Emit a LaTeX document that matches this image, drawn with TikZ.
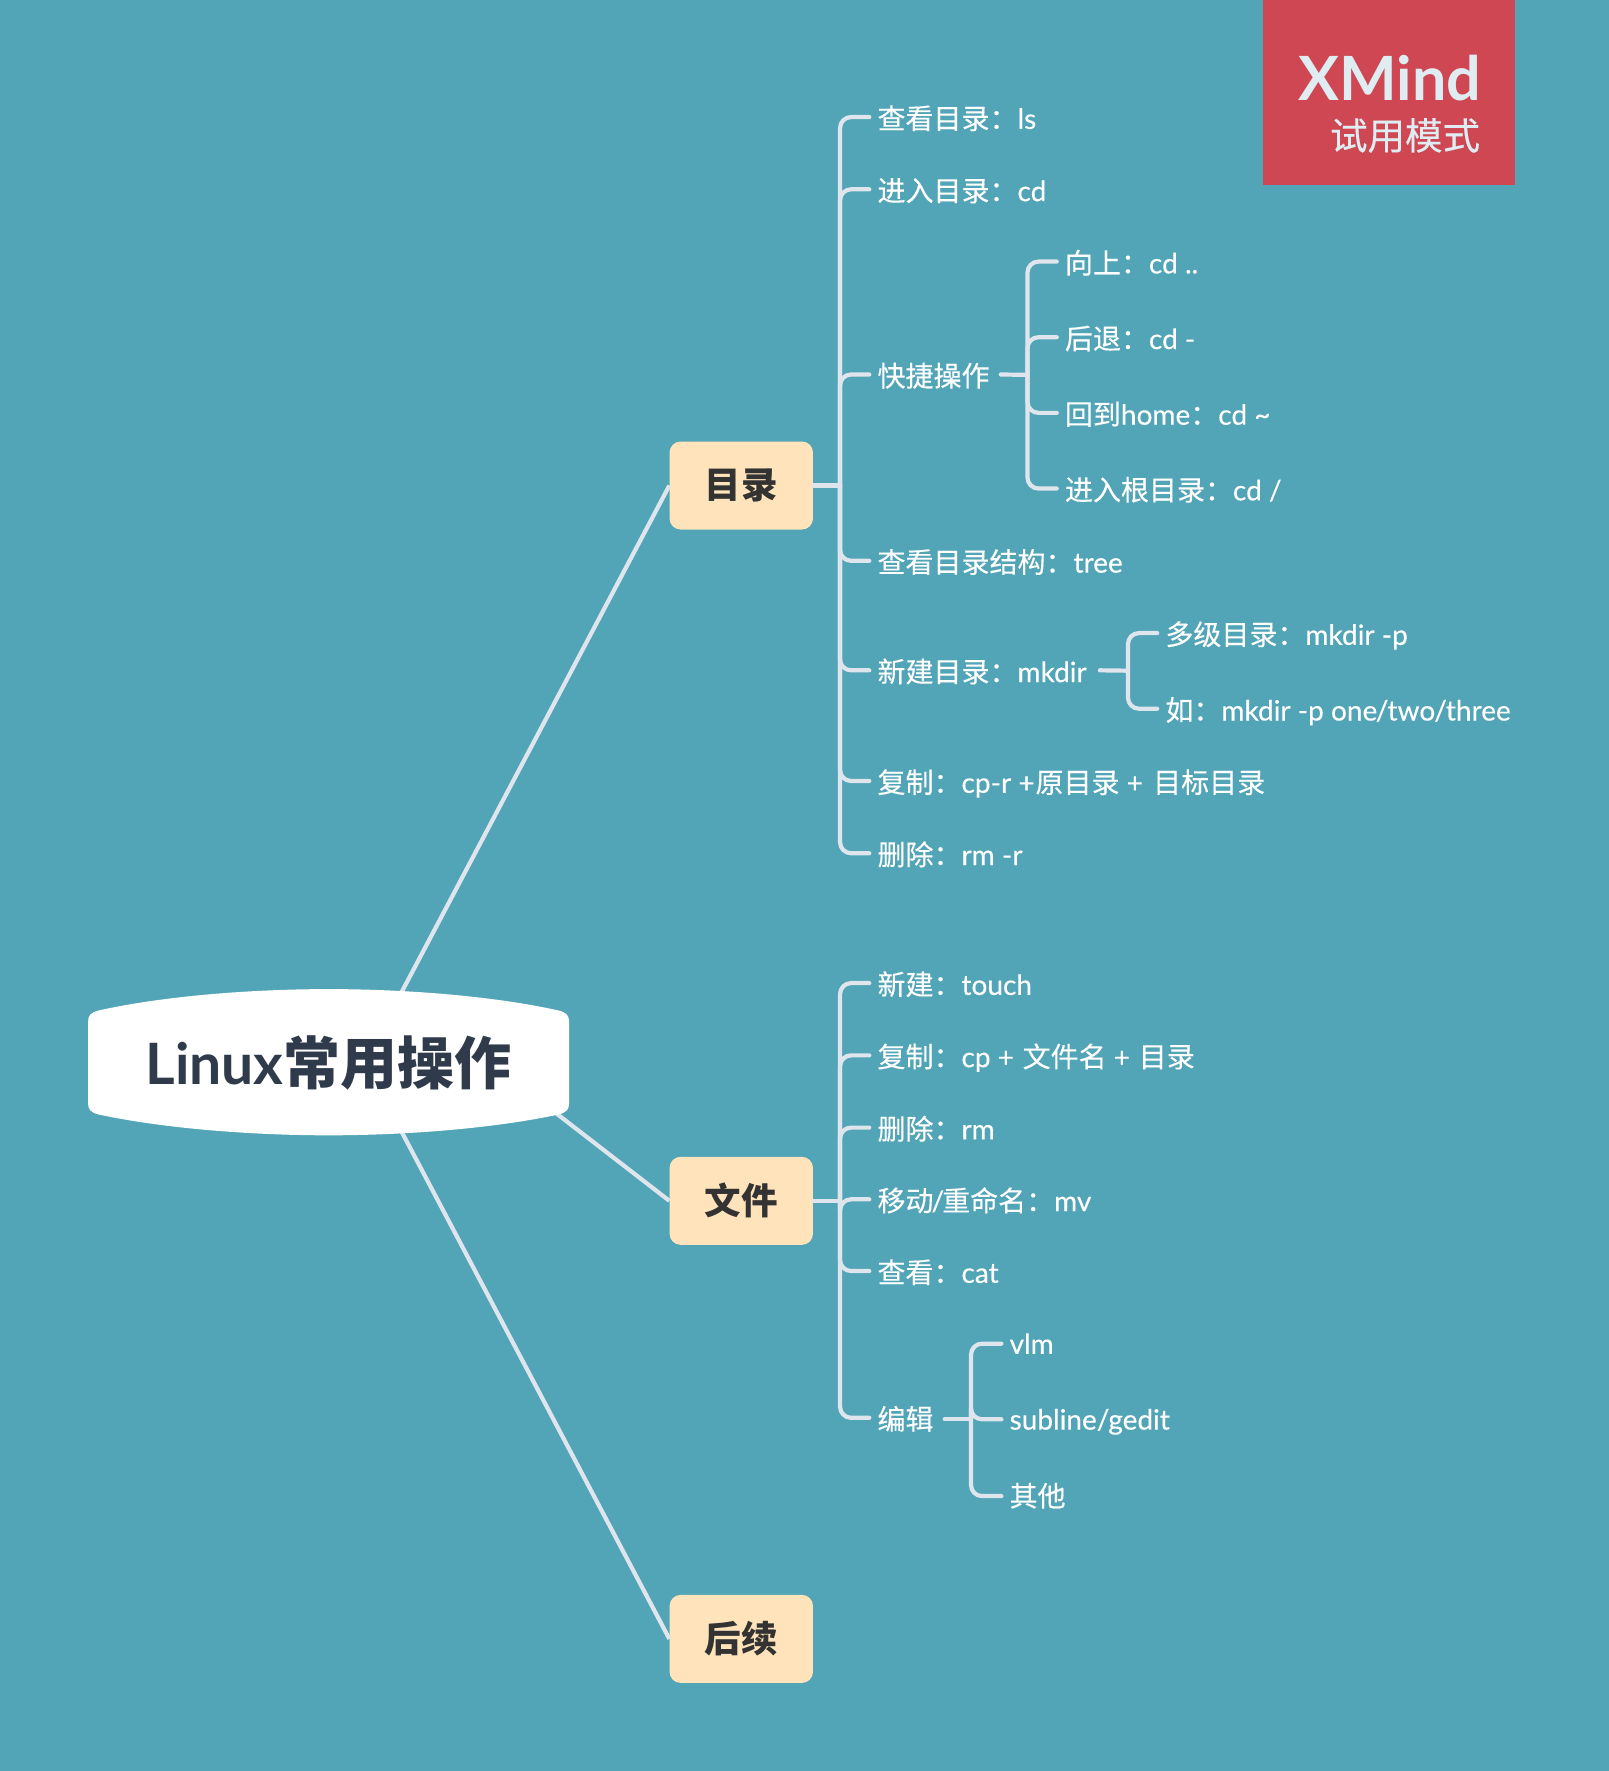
\documentclass[tikz,border=0pt]{standalone}
\usepackage{fontspec}
\setmainfont{Lato}[UprightFeatures={FakeBold=0.25}]
\newfontfamily\cjk{Noto Sans CJK SC}[UprightFeatures={FakeBold=0.25}]
\newcommand{\zh}[1]{{\cjk #1}}
\definecolor{bgc}{HTML}{52A4B7}
\definecolor{linec}{HTML}{DFE5EC}
\definecolor{boxc}{HTML}{FFE3BA}
\definecolor{rootink}{HTML}{2F3B4B}
\definecolor{boxink}{HTML}{333333}
\definecolor{redc}{HTML}{CE4753}
\definecolor{markink}{HTML}{DFECF2}
\tikzset{
  leaf/.style={anchor=west,inner sep=0pt,text=white,text height=24pt,text depth=3.4pt,
    font=\fontsize{28}{30}\selectfont},
  branchbox/.style={fill=boxc,rounded corners=11pt,minimum width=143.4pt,minimum height=88pt,
    inner sep=0pt,text=boxink,font=\fontsize{36.5}{38}\selectfont\bfseries},
  conn/.style={draw=linec,line width=4.2pt,line cap=round,rounded corners=11pt},
  spoke/.style={draw=linec,line width=4.2pt}
}
\begin{document}
\begin{tikzpicture}[x=1.1291pt,y=-1.1291pt]
\useasboundingbox (0,0) rectangle (1425,1568.5);
\fill[bgc] (0,0) rectangle (1425,1568.5);

% watermark
\node[fill=redc,anchor=north west,inner sep=0pt,minimum width=252pt,minimum height=184.5pt] (mark) at (1118.5,0) {};
\node[anchor=east,inner sep=0pt,text=markink,font=\fontsize{61}{61}\selectfont\bfseries] (markA) at (1312,69) {XMind};
\node[anchor=east,inner sep=0pt,text=markink,font=\fontsize{37.5}{38}\selectfont] (markB) at (1311,120) {\zh{试用模式}};

% root attachment points and branches
\coordinate (rA) at (355,880);
\coordinate (rB) at (490,984);
\coordinate (rC) at (355,1001);
\node[branchbox] (mulu) at (656.5,430) {\zh{目录}};
\node[branchbox] (wenjian) at (656.5,1063.5) {\zh{文件}};
\node[branchbox] (houxu) at (656.5,1451.5) {\zh{后续}};
\draw[spoke] (rA) -- (mulu.west);
\draw[spoke] (rB) -- (wenjian.west);
\draw[spoke] (rC) -- (houxu.west);

% root
\fill[white] (78,905) .. controls (78,899.5) and (80,897) .. (87,895)
  .. controls (150,881) and (230,876) .. (291,876)
  .. controls (352,876) and (432,881) .. (495,895)
  .. controls (502,897) and (504,899.5) .. (504,905)
  -- (504,977)
  .. controls (504,982.5) and (502,985) .. (495,987)
  .. controls (432,1000.5) and (352,1005.5) .. (291,1005.5)
  .. controls (230,1005.5) and (150,1000.5) .. (87,987)
  .. controls (80,985) and (78,982.5) .. (78,977) -- cycle;
\node[inner sep=0pt,text=rootink,font=\fontsize{57}{58}\selectfont\bfseries] (root) at (291,941) {Linux\zh{常用操作}};

% leaves of 目录
\node[leaf] (a1) at (777,105) {\zh{查看目录：}ls};
\node[leaf] (a2) at (777,169) {\zh{进入目录：}cd};
\node[leaf] (a3) at (777,333) {\zh{快捷操作}};
\node[leaf] (a31) at (943,233) {\zh{向上：}cd ..};
\node[leaf] (a32) at (943,300) {\zh{后退：}cd -};
\node[leaf] (a33) at (943,367) {\zh{回到}home\zh{：}cd \textasciitilde};
\node[leaf] (a34) at (943,434) {\zh{进入根目录：}cd /};
\node[leaf] (a4) at (777,498) {\zh{查看目录结构：}tree};
\node[leaf] (a5) at (777,595) {\zh{新建目录：}mkdir};
\node[leaf] (a51) at (1032,562) {\zh{多级目录：}mkdir -p};
\node[leaf] (a52) at (1032,629) {\zh{如：}mkdir -p one\kern-1.5pt/\kern-1pt two\kern-1pt/\kern-1pt three};
\node[leaf] (a6) at (777,693) {\zh{复制：}cp-r +\kern1pt\zh{原目录}{} + \kern3pt\zh{目标目录}};
\node[leaf] (a7) at (777,757) {\zh{删除：}rm -r};

% leaves of 文件
\node[leaf] (b1) at (777,872) {\zh{新建：}touch};
\node[leaf] (b2) at (777,936) {\zh{复制：}cp + \kern1.5pt\zh{文件名}{} + \kern1.5pt\zh{目录}};
\node[leaf] (b3) at (777,1000) {\zh{删除：}rm};
\node[leaf] (b4) at (777,1063.5) {\zh{移动}\kern-2pt/\kern-2pt\zh{重命名：}mv};
\node[leaf] (b5) at (777,1127) {\zh{查看：}cat};
\node[leaf] (b6) at (777,1257) {\zh{编辑}};
\node[leaf] (b61) at (894,1190) {vlm};
\node[leaf] (b62) at (894,1257) {subline/gedit};
\node[leaf] (b63) at (894,1325) {\zh{其他}};

% trunks
\coordinate (ta) at (744,430);
\coordinate (tb) at (744,1063.5);
\draw[conn] (mulu.east) -- (ta);
\draw[conn] (wenjian.east) -- (tb);
\foreach \n in {a1,a2,a3,a4,a5,a6,a7}
  \draw[conn] (ta) |- ([xshift=-8pt,yshift=1.5pt]\n.west);
\foreach \n in {b1,b2,b3,b4,b5,b6}
  \draw[conn] (tb) |- ([xshift=-8pt,yshift=1.5pt]\n.west);

% sub-trunks
\coordinate (ta3) at (910,332);
\coordinate (ta5) at (999,594);
\coordinate (tb6) at (860,1257);
\draw[conn] ([xshift=11pt,yshift=1.5pt]a3.east) -- (ta3);
\draw[conn] ([xshift=13pt,yshift=1.5pt]a5.east) -- (ta5);
\draw[conn] ([xshift=11pt,yshift=0pt]b6.east) -- (tb6);
\foreach \n in {a31,a32,a33,a34}
  \draw[conn] (ta3) |- ([xshift=-8pt,yshift=1.5pt]\n.west);
\foreach \n in {a51,a52}
  \draw[conn] (ta5) |- ([xshift=-8pt,yshift=1.5pt]\n.west);
\foreach \n in {b61,b62,b63}
  \draw[conn] (tb6) |- ([xshift=-8pt,yshift=0pt]\n.west);
\end{tikzpicture}
\end{document}
